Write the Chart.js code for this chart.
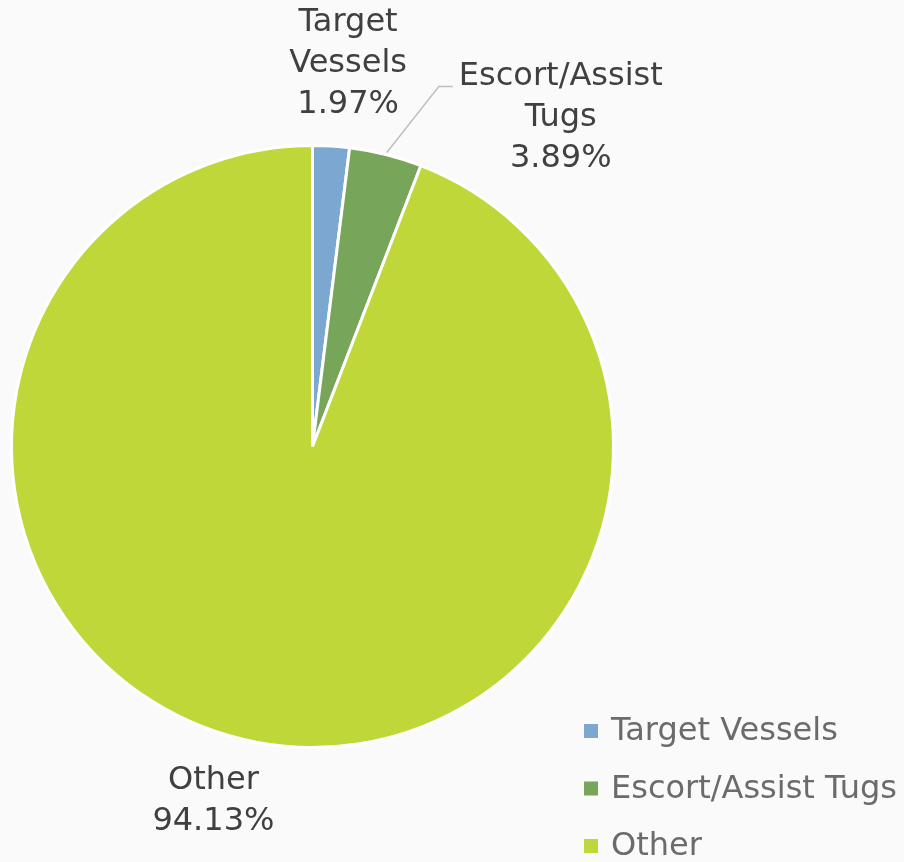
<!DOCTYPE html>
<html>
<head>
<meta charset="utf-8">
<script src="https://cdn.jsdelivr.net/npm/chart.js@4"></script>
<style>
  html, body { margin: 0; padding: 0; background: #fafafa; }
  #wrap { width: 904px; height: 862px; position: relative; }
</style>
</head>
<body>
<div id="wrap"><canvas id="pieChart"></canvas></div>
<script>
const categories = ["Target Vessels", "Escort/Assist Tugs", "Other"];
const shares = [1.97, 3.89, 94.13];
const labelLines = [["Target", "Vessels"], ["Escort/Assist", "Tugs"], ["Other"]];
const colors = ["#7ca7d0", "#77a55a", "#bfd739"];

// where each data label sits, relative to the outer middle of its slice
const labelOffsets = [[17, -82], [175, -37], [-44, 59]];

const FONT = "'DejaVu Sans', Verdana, sans-serif";

const labelPlugin = {
  id: "sliceLabels",
  afterDraw(chart) {
    const ctx = chart.ctx;
    const arcs = chart.getDatasetMeta(0).data;
    ctx.save();
    ctx.font = "32px " + FONT;
    ctx.textAlign = "center";
    ctx.textBaseline = "middle";
    arcs.forEach((arc, i) => {
      const mid = (arc.startAngle + arc.endAngle) / 2;
      const ox = arc.x + Math.cos(mid) * arc.outerRadius;
      const oy = arc.y + Math.sin(mid) * arc.outerRadius;
      const cx = ox + labelOffsets[i][0];
      const cy = oy + labelOffsets[i][1];
      const lines = labelLines[i].concat([shares[i].toFixed(2) + "%"]);
      const top = cy - (lines.length - 1) * 41 / 2;
      ctx.fillStyle = "#404040";
      lines.forEach((t, k) => ctx.fillText(t, cx, top + k * 41));

      // leader line for the escort slice
      if (i === 1) {
        ctx.strokeStyle = "#bfbfbf";
        ctx.lineWidth = 1.5;
        ctx.beginPath();
        ctx.moveTo(ox + 1, oy - 2);
        ctx.lineTo(ox + 53, oy - 68);
        ctx.lineTo(ox + 67, oy - 68);
        ctx.stroke();
      }
    });

    // legend, bottom right
    ctx.textAlign = "left";
    categories.forEach((c, i) => {
      const y = 731 + i * 57.5;
      ctx.fillStyle = colors[i];
      ctx.fillRect(584, y - 7, 14, 14);
      ctx.fillStyle = "#6b6b6b";
      ctx.fillText(c, 611, y + 1);
    });
    ctx.restore();
  }
};

new Chart(document.getElementById("pieChart"), {
  type: "pie",
  data: {
    labels: categories,
    datasets: [{
      data: shares,
      backgroundColor: colors,
      borderColor: "#ffffff",
      borderWidth: 3
    }]
  },
  options: {
    responsive: true,
    maintainAspectRatio: false,
    animation: false,
    layout: { padding: { left: 10, top: 144, right: 289, bottom: 113 } },
    plugins: {
      legend: { display: false },
      tooltip: { enabled: false }
    }
  },
  plugins: [labelPlugin]
});
</script>
</body>
</html>
